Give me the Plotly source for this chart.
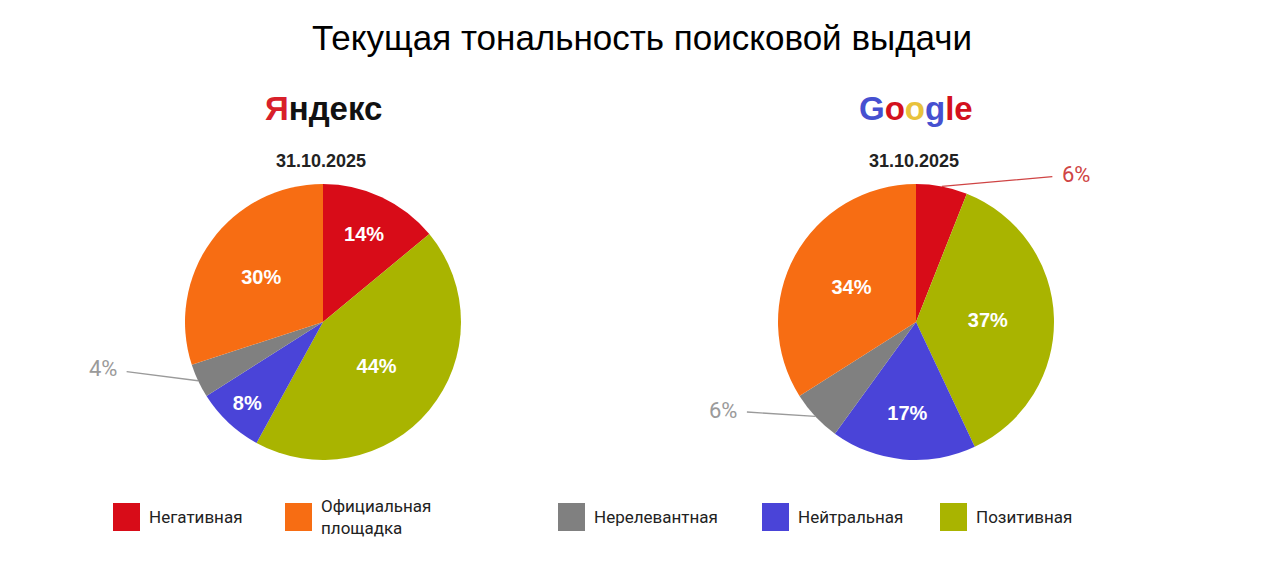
import math
import plotly.graph_objects as go

# data
categories = ["Негативная", "Позитивная", "Нейтральная", "Нерелевантная", "Официальная площадка"]
yandex_values = [14, 44, 8, 4, 30]
google_values = [6, 37, 17, 6, 34]
slice_colors = ["#d80c18", "#a9b400", "#4a44d8", "#808080", "#f76d13"]
label_colors = ["#cf4444", "#a9b400", "#4a44d8", "#9a9a9a", "#f76d13"]
report_date = "31.10.2025"

# legend order as in the picture
legend_order = ["Негативная", "Официальная<br>площадка", "Нерелевантная", "Нейтральная", "Позитивная"]
legend_colors = ["#d80c18", "#f76d13", "#808080", "#4a44d8", "#a9b400"]

W, H = 1275, 563
OFF = 8  # page body margin, px
R = 138  # pie radius, px


def px(x, y):
    # screen px of the target -> paper coords
    return (x - OFF) / W, 1 - (y - OFF) / H


pies = [
    {"name": "Яндекс", "values": yandex_values, "cx": 323, "cy": 322},
    {"name": "Google", "values": google_values, "cx": 916, "cy": 322},
]
# outside labels: (pie index, slice index, offset x px, offset y px)
outside = [(0, 3, -95, -12), (1, 0, 134, -12), (1, 3, -92, -6)]

fig = go.Figure()
for p in pies:
    inside_text = [f"{v}%" if v >= 8 else "" for v in p["values"]]
    x0, y1 = px(p["cx"] - R, p["cy"] - R)
    x1, y0 = px(p["cx"] + R, p["cy"] + R)
    fig.add_trace(go.Pie(
        labels=categories,
        values=p["values"],
        text=inside_text,
        textinfo="text",
        textposition="inside",
        insidetextorientation="horizontal",
        textfont=dict(family="Liberation Sans", size=20, color="white", weight="bold"),
        marker=dict(colors=slice_colors, line=dict(width=0)),
        sort=False,
        direction="clockwise",
        rotation=0,
        hoverinfo="label+percent",
        domain=dict(x=[x0, x1], y=[y0, y1]),
    ))

# leader-line labels for the small slices
for pi, si, ox, oy in outside:
    vals = pies[pi]["values"]
    mid = (sum(vals[:si]) + vals[si] / 2) / sum(vals) * 2 * math.pi
    ex, ey = px(pies[pi]["cx"] + R * math.sin(mid), pies[pi]["cy"] - R * math.cos(mid))
    fig.add_annotation(
        x=ex, y=ey, xref="paper", yref="paper",
        ax=ox, ay=oy, showarrow=True, arrowhead=0, arrowwidth=1.3,
        arrowcolor=label_colors[si], standoff=0, borderpad=9,
        text=f"{vals[si]}%",
        font=dict(family="Roboto", size=22, color=label_colors[si]),
    )

# logos and dates above each pie
yandex_logo = ("<span style='color:#d8202a'>Я</span>"
               "<span style='color:#111111'>ндекс</span>")
google_logo = ("<span style='color:#4650d0'>G</span>"
               "<span style='color:#d3111d'>o</span>"
               "<span style='color:#e8c23c'>o</span>"
               "<span style='color:#4650d0'>g</span>"
               "<span style='color:#d3111d'>le</span>")
for p, logo in zip(pies, [yandex_logo, google_logo]):
    lx, ly = px(p["cx"], 108)
    fig.add_annotation(x=lx, y=ly, xref="paper", yref="paper",
                       xanchor="center", yanchor="middle",
                       text=f"<b>{logo}</b>", showarrow=False,
                       font=dict(family="Liberation Sans", size=33))
    dx, dy = px(p["cx"] - 2, 161)
    fig.add_annotation(x=dx, y=dy, xref="paper", yref="paper",
                       xanchor="center", yanchor="middle",
                       text=f"<b>{report_date}</b>", showarrow=False,
                       font=dict(family="Liberation Sans", size=18, color="#222222"))

# legend row
legend_x = [113, 285, 558, 762, 940]
for lx, name, col in zip(legend_x, legend_order, legend_colors):
    sx0, sy1 = px(lx, 503)
    sx1, sy0 = px(lx + 27, 531)
    fig.add_shape(type="rect", xref="paper", yref="paper",
                  x0=sx0, x1=sx1, y0=sy0, y1=sy1,
                  fillcolor=col, line=dict(width=0))
    tx, ty = px(lx + 34, 517)
    fig.add_annotation(x=tx, y=ty, xref="paper", yref="paper",
                       xanchor="left", yanchor="middle", align="left",
                       showarrow=False, text=name,
                       font=dict(family="Roboto", size=17, color="#222222"))

tx, ty = px(642, 38)
fig.update_layout(
    width=W, height=H,
    margin=dict(l=0, r=0, t=0, b=0),
    paper_bgcolor="white", plot_bgcolor="white",
    showlegend=False,
    title=dict(text="Текущая тональность поисковой выдачи", x=tx, xanchor="center",
               y=ty, yanchor="middle",
               font=dict(family="Liberation Sans", size=35, color="#000000")),
)

fig.write_html("out.html")
